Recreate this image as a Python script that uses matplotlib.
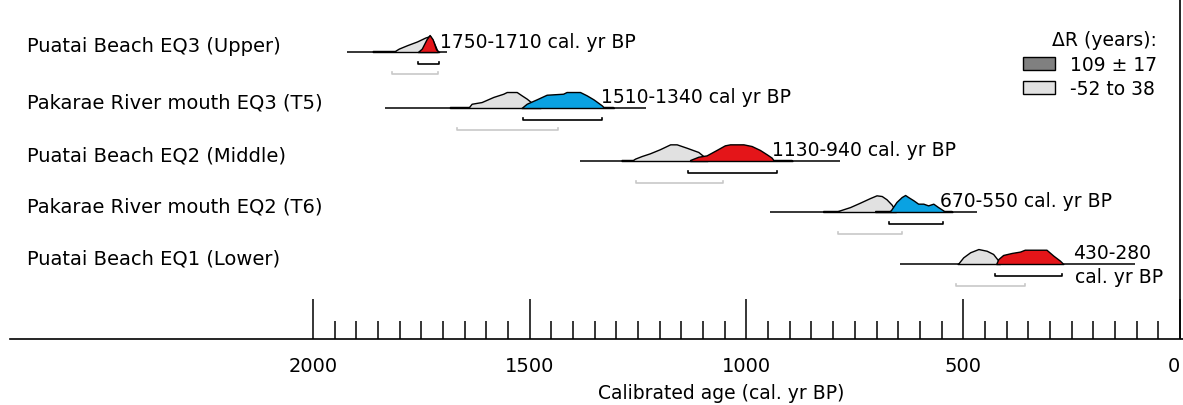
import matplotlib
matplotlib.use("Agg")
import matplotlib.pyplot as plt
from matplotlib.patches import Patch

# sites, top to bottom
sites = [
    "Puatai Beach EQ3 (Upper)",
    "Pakarae River mouth EQ3 (T5)",
    "Puatai Beach EQ2 (Middle)",
    "Pakarae River mouth EQ2 (T6)",
    "Puatai Beach EQ1 (Lower)",
]
age_labels = [
    "1750-1710 cal. yr BP",
    "1510-1340 cal yr BP",
    "1130-940 cal. yr BP",
    "670-550 cal. yr BP",
    "430-280\ncal. yr BP",
]
event_colors = ["#e41519", "#0aa2e2", "#e41519", "#0aa2e2", "#e41519"]

# full extent of each calibration (cal. yr BP)
span_old = [1922, 1834, 1384, 946, 646]
span_young = [1691, 1232, 784, 468, 104]

# probability curves, dR = -52 to 38 (grey)
grey_age = [
    [1862, 1811, 1802, 1783, 1760, 1741, 1730, 1722, 1712],
    [1684, 1640, 1634, 1611, 1584, 1561, 1553, 1530, 1519, 1507, 1490, 1475],
    [1288, 1262, 1257, 1242, 1223, 1200, 1176, 1161, 1138, 1111, 1100, 1090],
    [823, 790, 784, 761, 738, 715, 700, 688, 677, 665, 657, 655],
    [513, 511, 500, 484, 465, 446, 431, 419, 415],
]
grey_prob = [
    [0.06, 0.06, 0.2, 0.4, 0.62, 0.85, 0.94, 0.6, 0.0],
    [0.06, 0.06, 0.25, 0.35, 0.65, 0.84, 0.94, 0.94, 0.75, 0.55, 0.2, 0.0],
    [0.06, 0.06, 0.14, 0.29, 0.45, 0.69, 0.98, 0.98, 0.78, 0.53, 0.3, 0.0],
    [0.06, 0.06, 0.1, 0.29, 0.55, 0.82, 0.98, 0.94, 0.75, 0.43, 0.1, 0.0],
    [0.0, 0.04, 0.39, 0.69, 0.88, 0.78, 0.59, 0.2, 0.0],
]

# probability curves, dR = 109 +/- 17 (coloured)
col_age = [
    [1758, 1749, 1738, 1731, 1724, 1716, 1709],
    [1519, 1507, 1484, 1461, 1423, 1415, 1384, 1369, 1353, 1334, 1330, 1308, 1306],
    [1130, 1111, 1092, 1069, 1050, 1038, 1007, 988, 969, 953, 942, 938, 896, 894],
    [703, 670, 667, 654, 642, 634, 627, 615, 604, 592, 581, 569, 558, 544, 527, 525],
    [424, 419, 408, 388, 369, 358, 308, 292, 277, 269],
]
col_prob = [
    [0.0, 0.2, 0.75, 1.0, 0.75, 0.15, 0.0],
    [0.0, 0.25, 0.51, 0.78, 0.84, 0.94, 0.94, 0.75, 0.51, 0.16, 0.06, 0.06, 0.0],
    [0.06, 0.25, 0.33, 0.65, 0.92, 0.98, 0.98, 0.88, 0.65, 0.39, 0.2, 0.06, 0.06, 0.0],
    [0.06, 0.06, 0.1, 0.59, 0.88, 1.0, 0.88, 0.69, 0.49, 0.49, 0.39, 0.49, 0.29, 0.06, 0.06, 0.0],
    [0.0, 0.29, 0.53, 0.65, 0.73, 0.84, 0.84, 0.49, 0.2, 0.0],
]

# 2-sigma ranges
col_old = [1758, 1516, 1135, 671, 427]
col_young = [1709, 1333, 930, 547, 272]
grey_old = [1818, 1668, 1255, 789, 517]
grey_young = [1712, 1435, 1054, 641, 358]

# where the age text starts
text_x = [1707, 1336, 941, 554, 247]

major_ticks = [2000, 1500, 1000, 500, 0]
minor_ticks = [t for t in range(50, 2000, 50) if t % 500]

# layout (pixel rows)
base_y = [53, 109, 162, 213, 265]
amp = 17

plt.rcParams["font.family"] = ["DejaVu Sans"]
fs = 13.5

fig = plt.figure(figsize=(11.83, 4.06), dpi=100)
ax = fig.add_axes([0, 66 / 406, 1, 340 / 406])
ax.set_xlim(2722, -7)
ax.set_ylim(340, 0)

for i in range(len(sites)):
    y0 = base_y[i]
    ax.plot([span_old[i], span_young[i]], [y0, y0], color="black", lw=1.1,
            solid_capstyle="butt", zorder=2)
    gy = [y0 - p * amp for p in grey_prob[i]]
    ax.fill_between(grey_age[i], y0, gy, facecolor="#e1e1e1",
                    edgecolor="black", lw=1.0, zorder=3)
    cy = [y0 - p * amp for p in col_prob[i]]
    ax.fill_between(col_age[i], y0, cy, facecolor=event_colors[i],
                    edgecolor="black", lw=1.0, zorder=4)

    yb = y0 + 12
    ax.plot([col_old[i], col_old[i], col_young[i], col_young[i]],
            [yb - 2, yb, yb, yb - 2], color="black", lw=1.2, zorder=3)
    yg = y0 + 22
    ax.plot([grey_old[i], grey_old[i], grey_young[i], grey_young[i]],
            [yg - 2, yg, yg, yg - 2], color="#c8c8c8", lw=1.2, zorder=3)

    ax.text(2660, y0 - 6, sites[i], fontsize=14, ha="left", va="center")
    if "\n" in age_labels[i]:
        top, bot = age_labels[i].split("\n")
        ax.text(text_x[i], y0 - 11, top, fontsize=fs, ha="left", va="center")
        ax.text(text_x[i] - 5, y0 + 13, bot, fontsize=fs, ha="left", va="center")
    else:
        ax.text(text_x[i], y0 - 11, age_labels[i], fontsize=fs, ha="left", va="center")

# right border at 0
ax.plot([0, 0], [0, 340], color="black", lw=1.2, zorder=1)

for s in ["top", "left", "right"]:
    ax.spines[s].set_visible(False)
ax.spines["bottom"].set_bounds(2699, -7)
ax.spines["bottom"].set_linewidth(1.2)
ax.set_yticks([])
ax.set_xticks(major_ticks)
ax.set_xticks(minor_ticks, minor=True)
ax.tick_params(axis="x", which="major", direction="in", length=29, width=1.1,
               pad=12, labelsize=14)
ax.tick_params(axis="x", which="minor", direction="in", length=13, width=1.1)
# keep the "0" inside the picture
ax.xaxis.get_major_ticks()[-1].label1.set_horizontalalignment("right")
ax.set_xlabel("Calibrated age (cal. yr BP)", fontsize=fs)
ax.xaxis.set_label_coords(0.61, -0.13)

handles = [Patch(facecolor="#808080", edgecolor="black", lw=1.0, label="109 ± 17"),
           Patch(facecolor="#e1e1e1", edgecolor="black", lw=1.0, label="-52 to 38")]
leg = ax.legend(handles=handles, title="ΔR (years):", loc="upper right",
                bbox_to_anchor=(1170 / 1183, 1 - 18 / 340), frameon=False,
                fontsize=fs, title_fontsize=fs, handlelength=1.7, handleheight=0.7,
                handletextpad=0.8, labelspacing=0.3, borderpad=0.2,
                alignment="right")

fig.savefig("out.png", dpi=100)
